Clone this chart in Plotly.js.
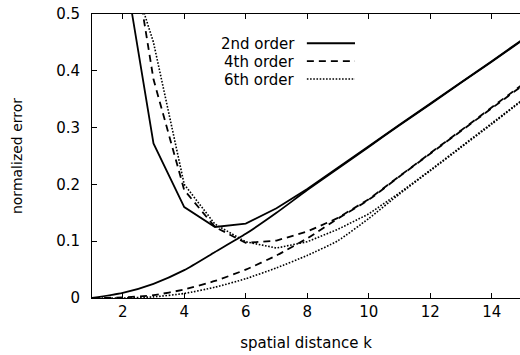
<!DOCTYPE html>
<html>
<head>
<meta charset="utf-8">
<script src="https://cdn.plot.ly/plotly-3.0.1.min.js"></script>
<style>html,body{margin:0;padding:0;background:#fff;}#chart{width:520px;height:355px;}</style>
</head>
<body>
<div id="chart"></div>
<script>
// spatial distance k
const k = [1, 2, 3, 4, 5, 6, 7, 8, 9, 10, 11, 12, 13, 14, 15];
const kHigh = [2, 3, 4, 5, 6, 7, 8, 9, 10, 11, 12, 13, 14, 15];

// 2nd order
const err2Low  = [0, 0.009, 0.025, 0.049, 0.081, 0.113, 0.150, 0.190, 0.228, 0.266, 0.304, 0.341, 0.379, 0.416, 0.454];
const err2High = [0.60, 0.272, 0.160, 0.125, 0.131, 0.158, 0.192, 0.229, 0.267, 0.305, 0.342, 0.380, 0.417, 0.455];
// 4th order
const err4Low  = [0, 0.001, 0.005, 0.015, 0.030, 0.050, 0.075, 0.105, 0.140, 0.173, 0.214, 0.254, 0.294, 0.334, 0.374];
const err4High = [0.72, 0.385, 0.19, 0.125, 0.097, 0.101, 0.117, 0.141, 0.174, 0.215, 0.255, 0.295, 0.335, 0.376];
// 6th order
const err6Low  = [0, 0, 0.002, 0.008, 0.019, 0.034, 0.053, 0.075, 0.101, 0.140, 0.183, 0.224, 0.265, 0.306, 0.348];
const err6High = [0.62, 0.45, 0.20, 0.13, 0.099, 0.088, 0.099, 0.121, 0.148, 0.185, 0.225, 0.266, 0.307, 0.349];

const seriesNames = ['2nd order', '4th order', '6th order'];
const xTicks = [2, 4, 6, 8, 10, 12, 14];
const yTicks = [0, 0.1, 0.2, 0.3, 0.4, 0.5];
const yTickText = ['0', '0.1', '0.2', '0.3', '0.4', '0.5'];

const styles = [
  {color: '#000', width: 1.8, dash: 'solid'},
  {color: '#000', width: 1.8, dash: '7px,5px'},
  {color: '#000', width: 1.6, dash: '1.6px,1.6px'}
];
const lows = [err2Low, err4Low, err6Low];
const highs = [err2High, err4High, err6High];

const traces = [];
for (let i = 0; i < 3; i++) {
  traces.push({x: k, y: lows[i], type: 'scatter', mode: 'lines', name: seriesNames[i],
    line: Object.assign({shape: 'spline', smoothing: 0.6}, styles[i]), showlegend: false, hoverinfo: 'skip'});
  traces.push({x: kHigh, y: highs[i], type: 'scatter', mode: 'lines', name: seriesNames[i],
    line: Object.assign({}, styles[i]), showlegend: false, hoverinfo: 'skip'});
}

const font = {family: 'DejaVu Sans, Arial, sans-serif', size: 15, color: '#000'};

// manual legend: text right, line sample to the right
const legendRowsY = [0.897, 0.834, 0.771];
const annotations = seriesNames.map((n, i) => ({
  xref: 'paper', yref: 'paper', x: 0.479, y: legendRowsY[i] - 0.004,
  xanchor: 'right', yanchor: 'middle', text: n, showarrow: false, font: font
}));
const shapes = styles.map((s, i) => ({
  type: 'line', xref: 'paper', yref: 'paper', x0: 0.502, x1: 0.6145,
  y0: legendRowsY[i], y1: legendRowsY[i], line: {color: s.color, width: s.width, dash: s.dash}
}));

const layout = {
  width: 520, height: 355,
  margin: {l: 92, r: 0, t: 14, b: 57, pad: 0},
  paper_bgcolor: '#fff', plot_bgcolor: '#fff',
  font: font,
  showlegend: false,
  xaxis: {
    range: [1, 14.92], tickvals: xTicks, ticks: 'inside', ticklen: 5, tickwidth: 1, tickcolor: '#000',
    showline: true, linecolor: '#000', linewidth: 1, mirror: 'ticks',
    showgrid: false, zeroline: false, ticklabelstandoff: 0,
    tickfont: font,
    title: {text: 'spatial distance k', font: font, standoff: 17}
  },
  yaxis: {
    range: [0, 0.5], tickvals: yTicks, ticktext: yTickText, ticks: 'inside', ticklen: 5, tickwidth: 1, tickcolor: '#000',
    showline: true, linecolor: '#000', linewidth: 1, mirror: false,
    showgrid: false, zeroline: false, ticklabelstandoff: 8,
    tickfont: font,
    title: {text: 'normalized error', font: {family: font.family, size: 14, color: '#000'}, standoff: 30}
  },
  yaxis2: {
    overlaying: 'y', side: 'right', range: [0, 0.5], tickvals: yTicks, ticks: 'inside', ticklen: 5,
    tickwidth: 1, tickcolor: '#000', showticklabels: false, showline: false, showgrid: false, zeroline: false
  },
  annotations: annotations,
  shapes: shapes
};

Plotly.newPlot('chart', traces, layout, {staticPlot: true, displayModeBar: false});
</script>
</body>
</html>
